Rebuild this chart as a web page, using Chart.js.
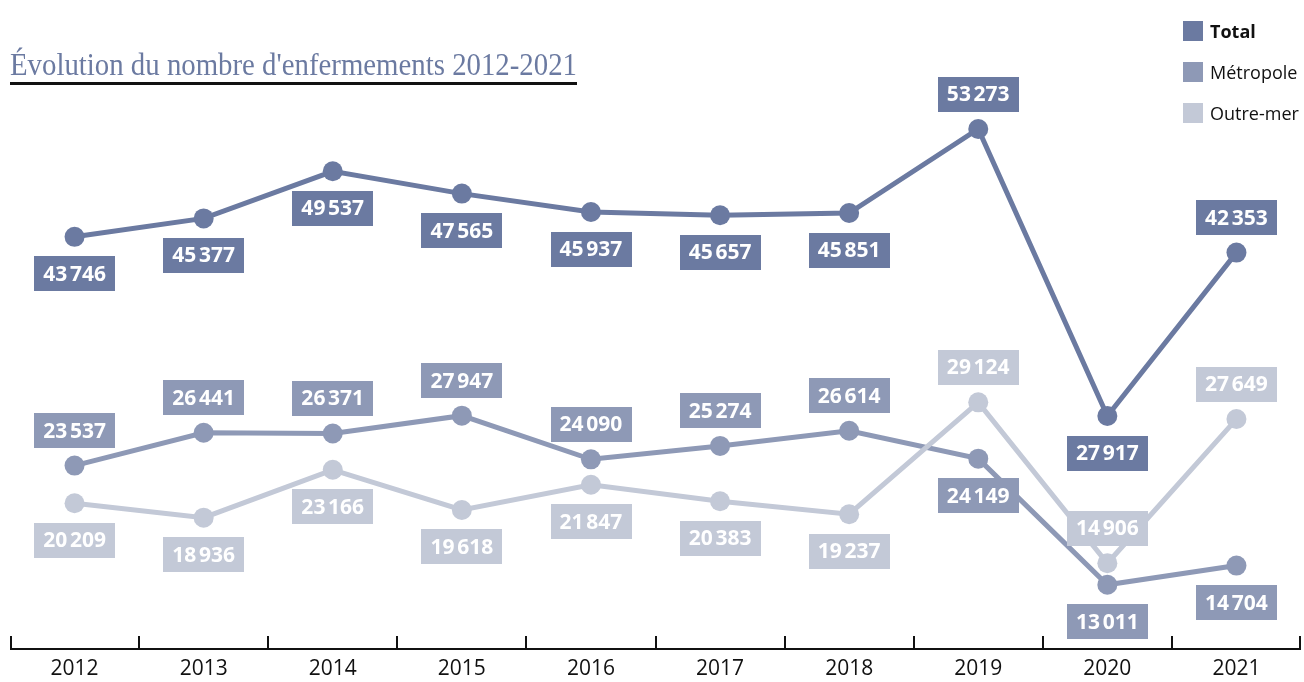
<!DOCTYPE html>
<html><head><meta charset="utf-8">
<script src="https://cdn.jsdelivr.net/npm/chart.js@4.4.0/dist/chart.umd.min.js"></script>
<style>
html,body{margin:0;padding:0;background:#fff;}
#wrap{position:relative;width:1304px;height:682px;overflow:hidden;}
canvas{position:absolute;left:0;top:0;}
#title{position:absolute;left:10px;top:45px;font-family:"Liberation Serif";font-size:32px;color:#6b7aa1;white-space:nowrap;line-height:38px;transform-origin:left top;}
#uline{position:absolute;left:10px;top:82px;width:567px;height:3px;background:#111;}
.leg{position:absolute;left:1183px;font-family:"Open Sans";font-size:18px;color:#111;display:flex;align-items:center;height:20px;white-space:nowrap;}
.leg .sw{width:20px;height:20px;display:inline-block;margin-right:7px;}
</style>
</head><body>
<div id="wrap">
<canvas id="c" width="1304" height="682"></canvas>
<div id="title">Évolution du nombre d'enfermements 2012-2021</div>
<div id="uline"></div>
<div class="leg" style="top:21px;font-weight:700"><span class="sw" style="background:#6b7aa1"></span>Total</div>
<div class="leg" style="top:62px"><span class="sw" style="background:#8e99b6"></span>Métropole</div>
<div class="leg" style="top:103px"><span class="sw" style="background:#c3c9d7"></span>Outre-mer</div>
</div>
<script>
const years = ['2012','2013','2014','2015','2016','2017','2018','2019','2020','2021'];
const total = [43746,45377,49537,47565,45937,45657,45851,53273,27917,42353];
const metropole = [23537,26441,26371,27947,24090,25274,26614,24149,13011,14704];
const outremer = [20209,18936,23166,19618,21847,20383,19237,29124,14906,27649];

// label placement relative to each point
const totalSide = ['below','below','below','below','below','below','below','above','below','above'];
const metroSide = ['above','above','above','above','above','above','above','below','below','below'];
const outreSide = ['below','below','below','below','below','below','below','above','above','above'];

const C_TOTAL = '#6b7aa1', C_METRO = '#8e99b6', C_OUTRE = '#c3c9d7';

// fit title width
(function(){
  const t = document.getElementById('title');
  const w = t.getBoundingClientRect().width;
  t.style.transform = 'scaleX(' + (567 / w) + ')';
})();

function fmt(v){
  const s = String(v);
  return s.slice(0, s.length-3) + '\u202F' + s.slice(-3);
}

const boxLabels = {
  id: 'boxLabels',
  afterDatasetsDraw(chart){
    const ctx = chart.ctx;
    ctx.save();
    chart.data.datasets.forEach((ds, di) => {
      const meta = chart.getDatasetMeta(di);
      meta.data.forEach((pt, i) => {
        const s = fmt(ds.data[i]);
        ctx.font = '700 21px "Open Sans"';
        const w = ctx.measureText(s).width;
        const bw = w + 18, bh = 35;
        const cy = ds.labelSide[i] === 'above' ? pt.y - 35 : pt.y + 37;
        ctx.fillStyle = ds.borderColor;
        ctx.fillRect(Math.round(pt.x - bw/2), Math.round(cy - bh/2), Math.round(bw), bh);
        ctx.fillStyle = '#fff';
        ctx.textAlign = 'center';
        ctx.textBaseline = 'middle';
        ctx.fillText(s, pt.x, cy + 1);
      });
    });
    ctx.restore();
  }
};

const axisPlugin = {
  id: 'axisPlugin',
  afterDraw(chart){
    const ctx = chart.ctx;
    const xs = chart.scales.x;
    const y = chart.chartArea.bottom;
    const n = years.length;
    ctx.save();
    ctx.strokeStyle = '#111';
    ctx.lineWidth = 2;
    ctx.beginPath();
    ctx.moveTo(xs.left, y);
    ctx.lineTo(xs.right, y);
    for (let i = 0; i <= n; i++){
      const x = Math.round(xs.left + i * xs.width / n) + (i === n ? -1 : (i === 0 ? 1 : 0));
      ctx.moveTo(x, y);
      ctx.lineTo(x, y - 13);
    }
    ctx.stroke();
    ctx.restore();
  }
};

function ds(label, data, color, side){
  return {
    label, data,
    borderColor: color, backgroundColor: color,
    pointBackgroundColor: color, pointBorderWidth: 0,
    pointRadius: 10, pointHoverRadius: 10,
    borderWidth: 5, tension: 0, fill: false,
    labelSide: side
  };
}

new Chart(document.getElementById('c'), {
  type: 'line',
  data: {
    labels: years,
    datasets: [
      ds('Total', total, C_TOTAL, totalSide),
      ds('Métropole', metropole, C_METRO, metroSide),
      ds('Outre-mer', outremer, C_OUTRE, outreSide)
    ].reverse()
  },
  options: {
    responsive: false,
    animation: false,
    devicePixelRatio: 1,
    layout: { autoPadding: false, padding: { left: 10, right: 3, top: 30, bottom: 0 } },
    plugins: { legend: { display: false }, tooltip: { enabled: false } },
    scales: {
      x: {
        offset: true,
        grid: { display: false },
        border: { display: false },
        ticks: { font: { family: 'Open Sans', size: 21, lineHeight: 1 }, color: '#111', padding: 2, maxRotation: 0 },
        afterFit(scale){ scale.height = 33; }
      },
      y: { display: false, min: 7333, max: 62020 }
    }
  },
  plugins: [boxLabels, axisPlugin]
});
</script>
</body></html>
